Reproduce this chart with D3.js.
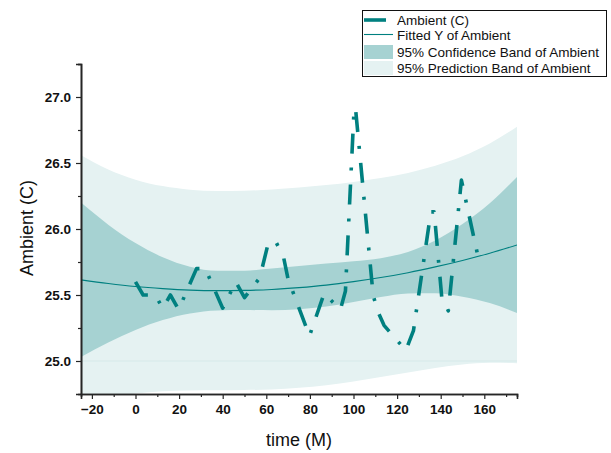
<!DOCTYPE html>
<html>
<head>
<meta charset="utf-8">
<script src="https://cdn.jsdelivr.net/npm/d3@7"></script>
<style>
  html, body { margin: 0; padding: 0; background: #fff; }
  svg { display: block; font-family: Arial, "Liberation Sans", sans-serif; }
</style>
</head>
<body>
<svg id="chart" width="611" height="453"></svg>
<script>
// Measured ambient temperature over time (minutes)
const times   = [0, 3.5, 9, 12.5, 16, 19.8, 28, 32, 40, 46, 50, 57, 61, 64.5, 68, 70, 79.8, 86.5, 94, 96.3, 100.3, 101, 109, 111, 114, 124, 127.5, 135.5, 137, 140.5, 143.5, 149.5, 157];
const ambient = [25.6, 25.5, 25.5, 25.4, 25.5, 25.39, 25.7, 25.7, 25.4, 25.6, 25.48, 25.63, 25.9, 25.9, 25.78, 25.62, 25.19, 25.51, 25.39, 25.53, 26.92, 26.9, 25.5, 25.38, 25.27, 25.08, 25.23, 26.13, 26.13, 25.48, 25.38, 26.37, 25.8];

// Quadratic fit of the series with its 95% confidence and prediction bands
const bandTime  = [-25, -12.5, 0, 12.5, 25, 37.5, 50, 62.5, 75, 87.5, 100, 112.5, 125, 137.5, 150, 162.5, 175];
const fittedY   = [25.615, 25.587, 25.564, 25.548, 25.537, 25.533, 25.535, 25.542, 25.556, 25.575, 25.601, 25.632, 25.669, 25.713, 25.762, 25.817, 25.879];
const confLow   = [25.030, 25.141, 25.235, 25.310, 25.360, 25.383, 25.386, 25.384, 25.392, 25.412, 25.447, 25.485, 25.512, 25.514, 25.487, 25.439, 25.364];
const confHigh  = [26.200, 26.033, 25.893, 25.786, 25.714, 25.683, 25.684, 25.700, 25.720, 25.738, 25.755, 25.779, 25.826, 25.912, 26.037, 26.195, 26.394];
const predLow   = [24.672, 24.723, 24.754, 24.771, 24.776, 24.778, 24.780, 24.785, 24.798, 24.817, 24.845, 24.878, 24.913, 24.947, 24.973, 24.986, 24.983];
const predHigh  = [26.558, 26.451, 26.374, 26.325, 26.298, 26.288, 26.290, 26.299, 26.314, 26.333, 26.357, 26.386, 26.425, 26.479, 26.551, 26.648, 26.775];

// Axis ticks
const xMajorTicks = [-20, 0, 20, 40, 60, 80, 100, 120, 140, 160];
const xMinorTicks = [-10, 10, 30, 50, 70, 90, 110, 130, 150, 170];
const yMajorTicks = [25.0, 25.5, 26.0, 26.5, 27.0];
const yMinorTicks = [25.25, 25.75, 26.25, 26.75, 27.25];

const legendLabels = ["Ambient (C)", "Fitted Y of Ambient", "95% Confidence Band of Ambient", "95% Prediction Band of Ambient"];

const teal = "#008080";
const confFill = "#a6d2d2";
const predFill = "#e5f2f2";
const fontFamily = "Arial, 'Liberation Sans', sans-serif";

const svg = d3.select("#chart");
const x = d3.scaleLinear().domain([-25, 175]).range([81, 517]);
const y = d3.scaleLinear().domain([24.75, 27.25]).range([394, 64]);

svg.append("defs").append("clipPath").attr("id", "plot-clip")
  .append("rect").attr("x", 81).attr("y", 64).attr("width", 436).attr("height", 330);

const plot = svg.append("g").attr("clip-path", "url(#plot-clip)");

const band = (lo, hi) => d3.area()
  .x((d, i) => x(bandTime[i]))
  .y0((d, i) => y(lo[i]))
  .y1((d, i) => y(hi[i]))
  .curve(d3.curveMonotoneX)(bandTime);

plot.append("path").attr("d", band(predLow, predHigh)).attr("fill", predFill);

// faint reference line at 25.0
plot.append("line")
  .attr("x1", x(-25)).attr("x2", x(175))
  .attr("y1", y(25.0)).attr("y2", y(25.0))
  .attr("stroke", "#d6e9e9").attr("stroke-width", 1);

plot.append("path").attr("d", band(confLow, confHigh)).attr("fill", confFill);

plot.append("path")
  .attr("d", d3.line().x((d, i) => x(bandTime[i])).y(d => y(d)).curve(d3.curveMonotoneX)(fittedY))
  .attr("fill", "none").attr("stroke", teal).attr("stroke-width", 1.1);

plot.append("path")
  .attr("d", d3.line().x((d, i) => x(times[i])).y(d => y(d))(ambient))
  .attr("fill", "none").attr("stroke", teal).attr("stroke-width", 3.6)
  .attr("stroke-linejoin", "round")
  .attr("stroke-dasharray", "20,14,3,14");

// Axes
const axisColor = "#262626";
const xAxis = svg.append("g").attr("transform", "translate(0,394)");
xAxis.call(d3.axisBottom(x).tickValues(xMajorTicks).tickSize(5).tickPadding(5).tickFormat(d3.format("d")));
xAxis.append("g").call(d3.axisBottom(x).tickValues(xMinorTicks).tickSize(3).tickFormat(""));

const yAxis = svg.append("g").attr("transform", "translate(81,0)");
yAxis.call(d3.axisLeft(y).tickValues(yMajorTicks).tickSize(5).tickPadding(5).tickFormat(d3.format(".1f")));
yAxis.append("g").call(d3.axisLeft(y).tickValues(yMinorTicks).tickSize(3).tickFormat(""));

[xAxis, yAxis].forEach(ax => {
  ax.selectAll(".domain").attr("stroke", axisColor).attr("stroke-width", 1.6);
  ax.selectAll(".tick line").attr("stroke", axisColor).attr("stroke-width", 1.2);
  ax.selectAll(".tick text").attr("font-size", 13.5).attr("font-weight", "bold")
    .attr("fill", "#111").attr("font-family", fontFamily);
});

// Axis titles
svg.append("text").attr("x", 299).attr("y", 446).attr("text-anchor", "middle")
  .attr("font-size", 18).attr("fill", "#111").text("time (M)");
svg.append("text").attr("transform", "translate(33,228) rotate(-90)").attr("text-anchor", "middle")
  .attr("font-size", 18).attr("fill", "#111").text("Ambient (C)");

// Legend
const lg = svg.append("g");
lg.append("rect").attr("x", 362.5).attr("y", 10.5).attr("width", 244).attr("height", 66)
  .attr("fill", "#fff").attr("stroke", "#111").attr("stroke-width", 1);
const rowY = [20, 34.5, 51.5, 67.5];
lg.append("line").attr("x1", 364).attr("x2", 386).attr("y1", rowY[0]).attr("y2", rowY[0])
  .attr("stroke", teal).attr("stroke-width", 3.6);
lg.append("line").attr("x1", 364).attr("x2", 393).attr("y1", rowY[1]).attr("y2", rowY[1])
  .attr("stroke", teal).attr("stroke-width", 1.1);
lg.append("rect").attr("x", 364).attr("y", 45).attr("width", 29).attr("height", 14).attr("fill", confFill);
lg.append("rect").attr("x", 364).attr("y", 61).attr("width", 29).attr("height", 14).attr("fill", predFill);
lg.selectAll("text.lbl").data(legendLabels).join("text")
  .attr("class", "lbl")
  .attr("x", 397).attr("y", (d, i) => rowY[i] + 5)
  .attr("font-size", 13.5).attr("fill", "#111").text(d => d);
</script>
</body>
</html>
